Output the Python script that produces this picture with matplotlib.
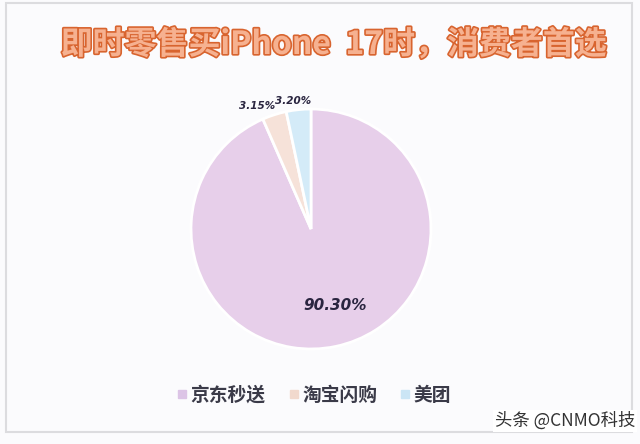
import matplotlib.pyplot as plt
import matplotlib.patheffects as pe
from matplotlib.patches import Rectangle
from matplotlib.lines import Line2D
import numpy as np

plt.rcParams['font.family'] = ['Noto Sans CJK SC', 'DejaVu Sans']

# data
platforms = ['京东秒送', '淘宝闪购', '美团']
shares = [90.30, 3.15, 3.20]
share_labels = ['90.30%', '3.15%', '3.20%']
colors = ['#e7cfea', '#f6e2d9', '#d4ebf8']
legend_colors = ['#dcc4e6', '#f1d9cd', '#cbe5f5']
title = '即时零售买iPhone  17时，消费者首选'

W, H = 640, 444
fig = plt.figure(figsize=(W / 100, H / 100), dpi=100)
fig.patch.set_facecolor('#fbfbfd')

# light frame around the card
fig.add_artist(Rectangle((6 / W, 12 / H), 626 / W, 429 / H, transform=fig.transFigure,
                         fill=False, edgecolor='#dcdcdf', linewidth=1.5))

# title with outline
fig.text(334 / W, 1 - 45 / H, title, ha='center', va='center', fontsize=23,
         fontweight='black', color='#f6b190',
         path_effects=[pe.Stroke(linewidth=2.4, foreground='#d8642f'), pe.Normal()])

# pie
R = 120
cx, cy = 311, H - 229
ax = fig.add_axes([(cx - R) / W, (cy - R) / H, 2 * R / W, 2 * R / H])
wedges, _ = ax.pie(shares, colors=colors, startangle=90, counterclock=False,
                   wedgeprops=dict(edgecolor='white', linewidth=2))
ax.set_xlim(-1, 1)
ax.set_ylim(-1, 1)
ax.set_aspect('equal')
ax.axis('off')

# value labels
label_dist = [0.67, 1.12, 1.08]
label_shift = [6, 6, 2]
label_size = [11, 7.5, 7.5]
for w, lab, d, s, fs in zip(wedges, share_labels, label_dist, label_shift, label_size):
    ang = np.deg2rad((w.theta1 + w.theta2) / 2 + s)
    ax.text(d * np.cos(ang), d * np.sin(ang), lab, ha='center', va='center',
            fontsize=fs, fontweight='heavy', fontstyle='italic', color='#2a2540',
            family='DejaVu Sans')

# legend
handles = [Line2D([], [], marker='s', linestyle='none', markersize=6,
                  markerfacecolor=c, markeredgecolor=c) for c in legend_colors]
fig.legend(handles, platforms, loc='center', bbox_to_anchor=(314 / W, 1 - 395 / H),
           ncol=3, frameon=False, handlelength=0.6, handletextpad=0.15,
           columnspacing=1.2, labelcolor='#3a3a48',
           prop={'weight': 'bold', 'size': 13.5})

# watermark
fig.text(635 / W, 1 - 421 / H, '头条 @CNMO科技', ha='right', va='center',
         fontsize=12.5, color='#333333',
         bbox=dict(facecolor='white', edgecolor='none', pad=1.5))

fig.savefig('out.png', dpi=100, facecolor=fig.get_facecolor())
